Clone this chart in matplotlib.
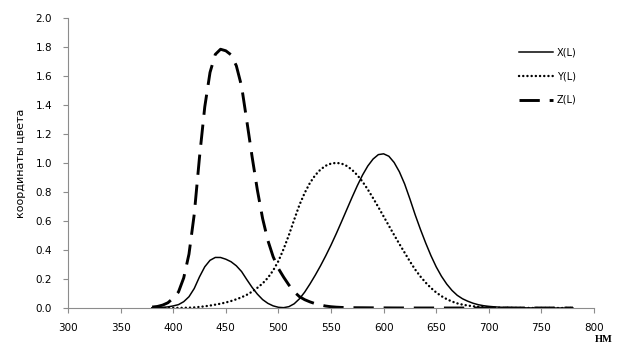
import matplotlib
matplotlib.use("Agg")
import matplotlib.pyplot as plt
import numpy as np

wavelength = list(range(380, 785, 5))
x_bar = [0.001368, 0.002236, 0.004243, 0.007650, 0.014310, 0.023190, 0.043510, 0.077630,
         0.134380, 0.214770, 0.283900, 0.328500, 0.348280, 0.348060, 0.336200, 0.318700,
         0.290800, 0.251100, 0.195360, 0.142100, 0.095640, 0.057950, 0.032010, 0.014700,
         0.004900, 0.002400, 0.009300, 0.029100, 0.063270, 0.109600, 0.165500, 0.225750,
         0.290400, 0.359700, 0.433450, 0.512050, 0.594500, 0.678400, 0.762100, 0.842500,
         0.916300, 0.978600, 1.026300, 1.056700, 1.062200, 1.045600, 1.002600, 0.938400,
         0.854450, 0.751400, 0.642400, 0.541900, 0.447900, 0.360800, 0.283500, 0.218700,
         0.164900, 0.121200, 0.087400, 0.063600, 0.046770, 0.032900, 0.022700, 0.015840,
         0.011359, 0.008111, 0.005790, 0.004109, 0.002899, 0.002049, 0.001440, 0.001000,
         0.000690, 0.000476, 0.000332, 0.000235, 0.000166, 0.000117, 0.000083, 0.000059,
         0.000042]
y_bar = [0.000039, 0.000064, 0.000120, 0.000217, 0.000396, 0.000640, 0.001210, 0.002180,
         0.004000, 0.007300, 0.011600, 0.016840, 0.023000, 0.029800, 0.038000, 0.048000,
         0.060000, 0.073900, 0.090980, 0.112600, 0.139020, 0.169300, 0.208020, 0.258600,
         0.323000, 0.407300, 0.503000, 0.608200, 0.710000, 0.793200, 0.862000, 0.914850,
         0.954000, 0.980300, 0.994950, 1.000000, 0.995000, 0.978600, 0.952000, 0.915400,
         0.870000, 0.816300, 0.757000, 0.694900, 0.631000, 0.566800, 0.503000, 0.441200,
         0.381000, 0.321000, 0.265000, 0.217000, 0.175000, 0.138200, 0.107000, 0.081600,
         0.061000, 0.044580, 0.032000, 0.023200, 0.017000, 0.011920, 0.008210, 0.005723,
         0.004102, 0.002929, 0.002091, 0.001484, 0.001047, 0.000740, 0.000520, 0.000361,
         0.000249, 0.000172, 0.000120, 0.000085, 0.000060, 0.000042, 0.000030, 0.000021,
         0.000015]
z_bar = [0.006450, 0.010550, 0.020050, 0.036210, 0.067850, 0.110200, 0.207400, 0.371300,
         0.645600, 1.039050, 1.385600, 1.622960, 1.747060, 1.782600, 1.772110, 1.744100,
         1.669200, 1.528100, 1.287640, 1.041900, 0.812950, 0.616200, 0.465180, 0.353300,
         0.272000, 0.212300, 0.158200, 0.111700, 0.078250, 0.057250, 0.042160, 0.029840,
         0.020300, 0.013400, 0.008750, 0.005750, 0.003900, 0.002750, 0.002100, 0.001800,
         0.001650, 0.001400, 0.001100, 0.001000, 0.000800, 0.000600, 0.000340, 0.000240,
         0.000190, 0.000100, 0.000050, 0.000030, 0.000020, 0.000010] + [0.0] * 27

series_labels = ["X(L)", "Y(L)", "Z(L)"]
x_ticks = [300, 350, 400, 450, 500, 550, 600, 650, 700, 750, 800]
y_ticks = [0.0, 0.2, 0.4, 0.6, 0.8, 1.0, 1.2, 1.4, 1.6, 1.8, 2.0]

plt.rcParams['font.family'] = ['DejaVu Sans']
fig = plt.figure(figsize=(6.42, 3.58), dpi=100)
ax = fig.add_axes([68/642, 1 - 308/358, (594-68)/642, (308-17.7)/358])

lw_px = 72/100
ax.plot(wavelength, x_bar, color='black', lw=1.5*lw_px, label=series_labels[0])
ax.plot(wavelength, y_bar, color='black', lw=2.4*lw_px, linestyle=(0, (0.05, 1.7)),
        dash_capstyle='round', label=series_labels[1])
ax.plot(wavelength, z_bar, color='black', lw=2.9*lw_px, linestyle=(0, (7.0, 3.4)),
        dash_capstyle='butt', label=series_labels[2])

ax.set_xlim(300, 800)
ax.set_ylim(0, 2.0)
ax.set_xticks(x_ticks)
ax.set_yticks(y_ticks)
ax.set_xticklabels([str(t) for t in x_ticks])
ax.set_yticklabels([f"{t:.1f}" for t in y_ticks])
for s in ['top', 'right']:
    ax.spines[s].set_visible(False)
for s in ['left', 'bottom']:
    ax.spines[s].set_color('#8c8c8c')
    ax.spines[s].set_linewidth(0.8)
ax.tick_params(axis='both', colors='#8c8c8c', labelcolor='black', labelsize=7.5,
               length=3.5, width=0.8, direction='out')
ax.tick_params(axis='x', pad=7)
ax.tick_params(axis='y', pad=8)

ax.set_ylabel("координаты цвета", fontsize=8, labelpad=7)
fig.text(604/642, 1 - 339/358, "НМ", family='Liberation Serif', fontweight='bold',
         fontsize=7.5, ha='center', va='center')

leg = ax.legend(loc='upper left', bbox_to_anchor=(510/642, 1 - 39/358),
                bbox_transform=fig.transFigure, frameon=False, fontsize=7,
                handlelength=3.5, handletextpad=0.4, labelspacing=1.4)

fig.savefig("out.png", dpi=100)
